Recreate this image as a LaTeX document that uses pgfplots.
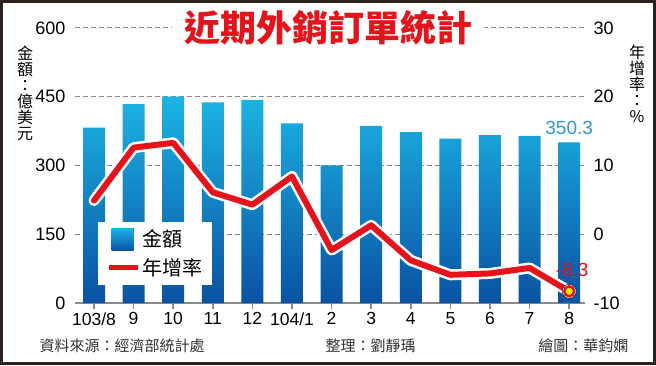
\documentclass[border=0pt]{standalone}
\usepackage{fontspec}
\setmainfont{Liberation Sans}
\newfontfamily\cjk{Noto Sans CJK TC}
\usepackage{pgfplots}
\pgfplotsset{compat=1.18}
\definecolor{barTop}{HTML}{1CB4E4}
\definecolor{barBot}{HTML}{0A52A2}
\definecolor{lineRed}{HTML}{E3141B}
\definecolor{lblBlue}{HTML}{2A9AD8}
\definecolor{gridGray}{HTML}{8A8A8A}
\definecolor{shadowC}{HTML}{DADADA}
\definecolor{frameC}{HTML}{2B2220}
\definecolor{footC}{HTML}{333333}
\begin{document}
\begin{tikzpicture}[x=1pt,y=1pt]
\fill[white] (0,0) rectangle (656,365);
\foreach \k in {1,2,3,4} {
  \foreach \s in {0,8,...,504} {
    \draw[gridGray, line width=1pt] (75+\s,62+68.75*\k) -- (80+\s,62+68.75*\k);
  }
}
\begin{axis}[at={(75pt,62pt)}, anchor=south west, scale only axis, width=510pt, height=275pt,
 xmin=-0.48, xmax=12.4, ymin=0, ymax=600, clip=false,
 ytick={0,150,300,450,600},
 axis x line*=bottom, axis y line*=left, y axis line style={draw=none}, ytick style={draw=none},
 xtick={0,...,12}, xticklabels={103/8,9,10,11,12,104/1,2,3,4,5,6,7,8},
 x axis line style={gridGray, line width=1.5pt}, xtick style={gridGray, line width=1.5pt},
 major tick length=6pt, tick align=outside,
 tick label style={font=\fontsize{18}{18}\selectfont, text=black},
 xticklabel style={font=\fontsize{17.5}{18}\selectfont},
 /pgf/number format/assume math mode=true,
 legend style={at={(axis description cs:0.045,0.065)}, anchor=south west, draw=none, fill=white,
   font=\cjk\fontsize{20}{20}\selectfont, inner xsep=8pt, inner ysep=6pt,
   row sep=6pt, nodes={inner sep=2pt}},
 legend cell align=left,
]
\addplot[ybar, bar width=22pt, draw=none, top color=barTop, bottom color=barBot,
  legend image code/.code={\fill[top color=barTop,bottom color=barBot] (0pt,-11pt) rectangle (22pt,11pt);}]
  coordinates {(0,382.7) (1,434.0) (2,450.2) (3,437.6) (4,443.4) (5,391.8) (6,300.5) (7,386.6) (8,372.6) (9,358.5) (10,366.4) (11,364.5) (12,350.3)};
\addlegendentry{金額}
\addlegendimage{legend image code/.code={\draw[lineRed, line width=5pt] (-3pt,0pt) -- (26pt,0pt);}}
\addlegendentry{年增率}
\node[text=lblBlue, anchor=south, font=\fontsize{19}{19}\selectfont, inner sep=0pt] at (axis cs:12,350.3) [yshift=8pt] {350.3};
\end{axis}
\begin{axis}[at={(75pt,62pt)}, anchor=south west, scale only axis, width=510pt, height=275pt,
 xmin=-0.48, xmax=12.4, ymin=-10, ymax=30, clip=false,
 axis x line=none, axis y line*=right, y axis line style={draw=none}, ytick style={draw=none},
 ytick={-10,0,10,20,30}, xtick=\empty,
 tick label style={font=\fontsize{18}{18}\selectfont, text=black},
 yticklabel style={xshift=5pt},
 /pgf/number format/assume math mode=true,
]
\addplot[white, line width=11pt, line join=round, line cap=round]
  coordinates {(0,4.9) (1,12.6) (2,13.3) (3,6.1) (4,4.3) (5,8.4) (6,-2.3) (7,1.3) (8,-3.8) (9,-5.9) (10,-5.7) (11,-4.9) (12,-8.3)};
\addplot[lineRed, line width=6pt, line join=round, line cap=round]
  coordinates {(0,4.9) (1,12.6) (2,13.3) (3,6.1) (4,4.3) (5,8.4) (6,-2.3) (7,1.3) (8,-3.8) (9,-5.9) (10,-5.7) (11,-4.9) (12,-8.3)};
\addplot[only marks, mark=*, mark size=7pt, mark options={fill=white, draw=none}] coordinates {(12,-8.3)};
\addplot[only marks, mark=*, mark size=5pt, mark options={fill=yellow, draw=lineRed, line width=2.5pt}] coordinates {(12,-8.3)};
\node[text=lineRed, anchor=south, font=\fontsize{19}{19}\selectfont, inner sep=0pt] at (axis cs:12,-8.3) [xshift=3pt, yshift=14pt] {-8.3};
\end{axis}
\node[fill=white, inner xsep=12pt, inner ysep=2pt, text=lineRed, font=\cjk\bfseries\fontsize{36}{36}\selectfont] at (328,337) {近期外銷訂單統計};
\node[font=\cjk\fontsize{16}{16}\selectfont, align=center, inner sep=0pt] at (25,272) {金\\額\\：\\億\\美\\元};
\node[font=\cjk\fontsize{16}{16}\selectfont, align=center, inner sep=0pt] at (637,281) {年\\增\\率\\：\\\%};
\node[anchor=west, text=footC, font=\cjk\fontsize{15}{15}\selectfont] at (36,19) {資料來源：經濟部統計處};
\node[anchor=west, text=footC, font=\cjk\fontsize{15}{15}\selectfont] at (322,19) {整理：劉靜瑀};
\node[anchor=east, text=footC, font=\cjk\fontsize{15}{15}\selectfont] at (632,19) {繪圖：華鈞嫻};
\draw[frameC, line width=3pt] (1.5,1.5) rectangle (654.5,363.5);
\end{tikzpicture}
\end{document}
